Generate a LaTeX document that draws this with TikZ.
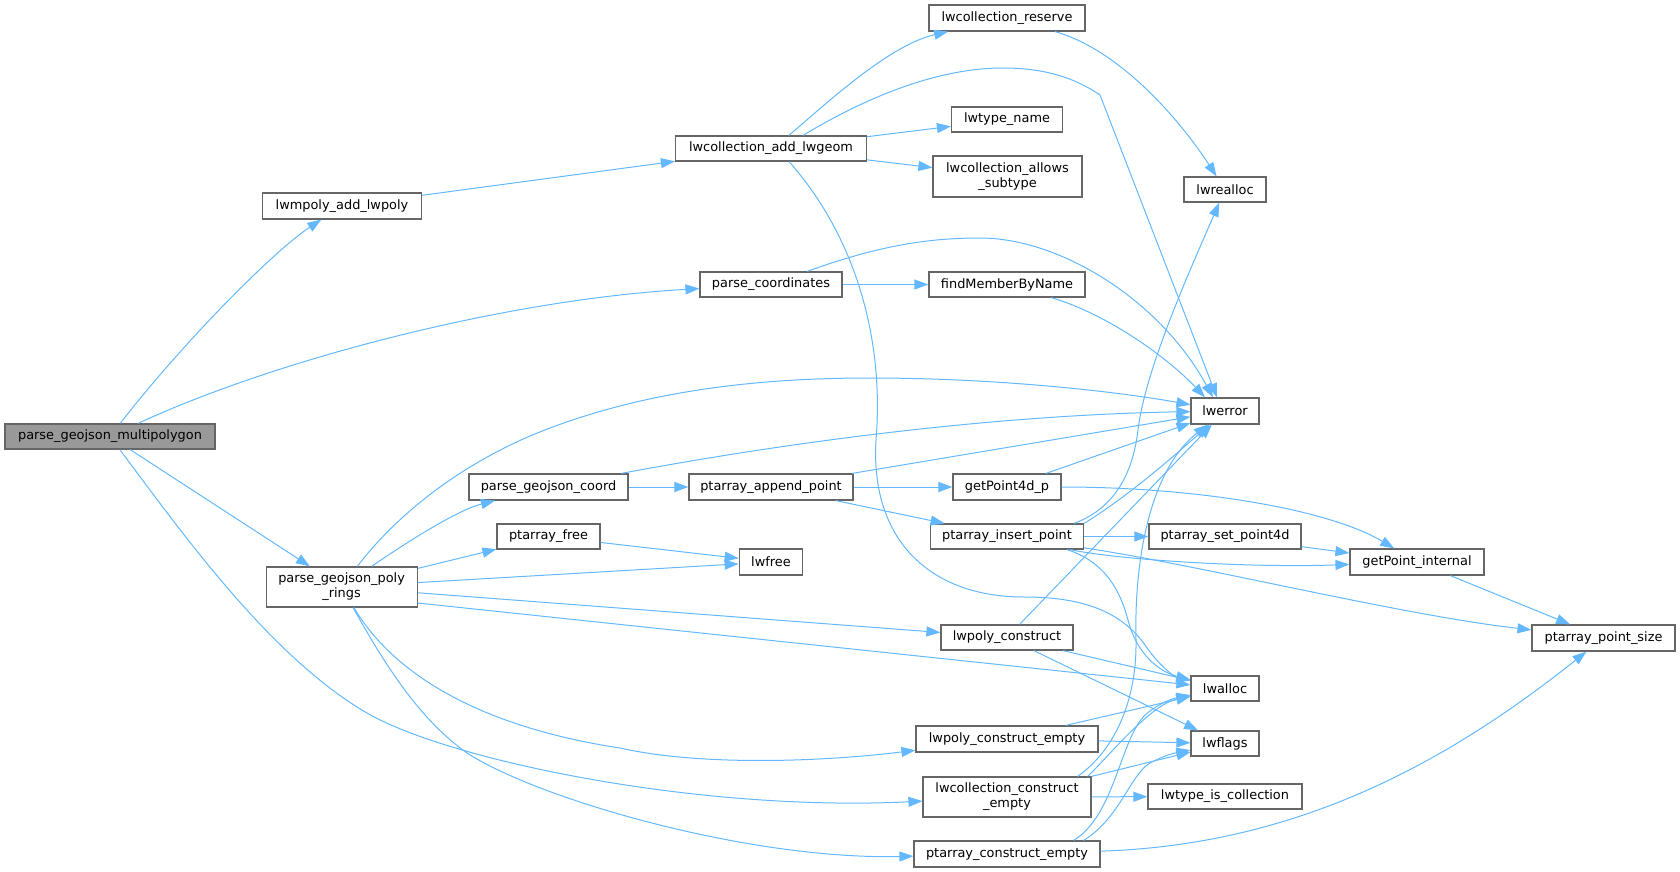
\documentclass[tikz,border=0pt]{standalone}
\usepackage{fontspec}
\setmainfont{DejaVu Sans}
\usetikzlibrary{arrows.meta,calc}
\definecolor{edgec}{HTML}{63B8FF}
\definecolor{bord}{HTML}{666666}
\definecolor{rootfill}{HTML}{999999}
\begin{document}
\begin{tikzpicture}[x=1pt,y=-1pt,
  box/.style={draw=bord,line width=1.2pt,fill=white,rectangle,inner sep=0pt,align=center,
    font=\fontsize{12.9}{15}\selectfont,text=black},
  rootbox/.style={box,fill=rootfill},
  e/.style={draw=edgec,line width=1pt,-{Triangle[length=14pt,width=10pt]}}]
\useasboundingbox (0,0) rectangle (1680,872);
% nodes
\node[rootbox,minimum width=210pt,minimum height=25pt] (root) at (110,436.5) {parse\_geojson\_multipolygon};
\node[box,minimum width=159pt,minimum height=26pt] (mpoly) at (342,206) {lwmpoly\_add\_lwpoly};
\node[box,minimum width=191pt,minimum height=25pt] (addgeom) at (771,148.5) {lwcollection\_add\_lwgeom};
\node[box,minimum width=156pt,minimum height=26pt] (reserve) at (1007,18) {lwcollection\_reserve};
\node[box,minimum width=111pt,minimum height=25pt] (tname) at (1007,119.5) {lwtype\_name};
\node[box,minimum width=149pt,minimum height=41pt] (allows) at (1007.5,176.5) {lwcollection\_allows\\\_subtype};
\node[box,minimum width=142pt,minimum height=25pt] (pcoords) at (771,284.5) {parse\_coordinates};
\node[box,minimum width=156pt,minimum height=25pt] (findm) at (1007,284.5) {findMemberByName};
\node[box,minimum width=82pt,minimum height=25pt] (realloc) at (1225,189.5) {lwrealloc};
\node[box,minimum width=68pt,minimum height=26pt] (lwerror) at (1225,411) {lwerror};
\node[box,minimum width=151pt,minimum height=40pt] (rings) at (341.6,587) {parse\_geojson\_poly\\\_rings};
\node[box,minimum width=159pt,minimum height=26pt] (gcoord) at (548.5,487) {parse\_geojson\_coord};
\node[box,minimum width=103pt,minimum height=25pt] (pfree) at (548.5,536.5) {ptarray\_free};
\node[box,minimum width=164pt,minimum height=26pt] (append) at (771,487) {ptarray\_append\_point};
\node[box,minimum width=108pt,minimum height=26pt] (gp4d) at (1007,487) {getPoint4d\_p};
\node[box,minimum width=153pt,minimum height=25pt] (insert) at (1007,536.5) {ptarray\_insert\_point};
\node[box,minimum width=63.5pt,minimum height=26pt] (lwfree) at (771,562) {lwfree};
\node[box,minimum width=132pt,minimum height=25pt] (pconstruct) at (1007,637.5) {lwpoly\_construct};
\node[box,minimum width=182pt,minimum height=26pt] (pcempty) at (1007,739) {lwpoly\_construct\_empty};
\node[box,minimum width=168pt,minimum height=40pt] (ccempty) at (1007,797) {lwcollection\_construct\\\_empty};
\node[box,minimum width=186pt,minimum height=26pt] (paempty) at (1007,854) {ptarray\_construct\_empty};
\node[box,minimum width=152pt,minimum height=25pt] (setp4d) at (1225,536.5) {ptarray\_set\_point4d};
\node[box,minimum width=134pt,minimum height=26pt] (gpint) at (1417,562) {getPoint\_internal};
\node[box,minimum width=143pt,minimum height=26pt] (psize) at (1603.5,638) {ptarray\_point\_size};
\node[box,minimum width=68pt,minimum height=25pt] (lwalloc) at (1225,688.5) {lwalloc};
\node[box,minimum width=68pt,minimum height=25pt] (lwflags) at (1225,743.5) {lwflags};
\node[box,minimum width=154pt,minimum height=25pt] (istype) at (1225,796.5) {lwtype\_is\_collection};
% edges
\draw[e] (root) .. controls (185,340) and (275,250) .. (mpoly);
\draw[e] (root) .. controls (270,362) and (500,300) .. (pcoords);
\draw[e] (root) -- (rings);
\draw[e] (root) .. controls (180,530) and (270,657) .. (367,713) .. controls (450,761) and (700,812) .. (ccempty);
\draw[e] (mpoly) -- (addgeom);
\draw[e] ($(addgeom.north)+(18,0)$) .. controls (830,100) and (890,45) .. (reserve);
\draw[e] ($(addgeom.north)+(32,0)$) .. controls (870,95) and (940,68) .. (1003,68) .. controls (1045,68) and (1075,78) .. (1100,95) -- ($(lwerror.north)+(-8,0)$);
\draw[e] (addgeom) -- (tname);
\draw[e] (addgeom) -- (allows);
\draw[e] ($(addgeom.south)+(18,0)$) .. controls (850,230) and (885,330) .. (876,440) .. controls (870,540) and (930,597) .. (1024,597) .. controls (1080,597) and (1120,610) .. (1145,645) .. controls (1160,667) and (1175,677) .. (lwalloc);
\draw[e] (reserve) .. controls (1120,50) and (1180,120) .. (realloc);
\draw[e] (pcoords) .. controls (880,245) and (930,238) .. (980,238) .. controls (1060,238) and (1160,300) .. ($(lwerror.north)+(-12,0)$);
\draw[e] (pcoords) -- (findm);
\draw[e] (findm) .. controls (1110,315) and (1170,360) .. ($(lwerror.north)+(-20,0)$);
\draw[e] (rings) .. controls (385,530) and (440,475) .. (530,436) .. controls (640,390) and (760,378) .. (870,378) .. controls (1000,378) and (1120,392) .. (lwerror);
\draw[e] (rings) .. controls (410,540) and (458,510) .. (gcoord);
\draw[e] (rings) -- (pfree);
\draw[e] (rings) -- (lwfree);
\draw[e] (pfree) -- (lwfree);
\draw[e] (rings) -- (pconstruct);
\draw[e] ($(rings.east)+(0,16)$) -- (lwalloc);
\draw[e] (rings) .. controls (400,685) and (500,730) .. (620,748) .. controls (700,766) and (820,762) .. (pcempty);
\draw[e] (rings) .. controls (385,665) and (420,720) .. (467,753) .. controls (540,800) and (750,860) .. (paempty);
\draw[e] (gcoord) .. controls (800,440) and (1000,415) .. (lwerror);
\draw[e] (gcoord) -- (append);
\draw[e] (append) -- (lwerror);
\draw[e] (append) -- (gp4d);
\draw[e] (append) -- (insert);
\draw[e] (gp4d) -- (lwerror);
\draw[e] (gp4d) .. controls (1200,487) and (1330,510) .. (gpint);
\draw[e] ($(insert.north east)+(-10,0)$) .. controls (1110,510) and (1132,480) .. (1138,430) .. controls (1145,370) and (1190,270) .. (realloc);
\draw[e] (insert.north east) .. controls (1130,495) and (1175,455) .. (lwerror);
\draw[e] (insert) -- (setp4d);
\draw[e] (insert) .. controls (1120,560) and (1250,568) .. (gpint);
\draw[e] (insert) .. controls (1200,565) and (1400,615) .. (psize);
\draw[e] ($(insert.south east)+(-17,0)$) .. controls (1105,562) and (1120,590) .. (1128,620) .. controls (1137,655) and (1160,672) .. (lwalloc);
\draw[e] (setp4d) -- (gpint);
\draw[e] (gpint) -- (psize);
\draw[e] (pconstruct) -- (lwerror);
\draw[e] (pconstruct) -- (lwalloc);
\draw[e] (pconstruct) -- (lwflags);
\draw[e] (pcempty) -- (lwalloc);
\draw[e] (pcempty) -- (lwflags);
\draw[e] ($(ccempty.north east)+(-14,0)$) .. controls (1115,750) and (1137,700) .. (1136,640) .. controls (1134,560) and (1150,470) .. (lwerror);
\draw[e] ($(ccempty.north east)+(-4,0)$) .. controls (1110,755) and (1150,705) .. (lwalloc);
\draw[e] (ccempty.north east) -- (lwflags);
\draw[e] (ccempty) -- (istype);
\draw[e] ($(paempty.north east)+(-27,0)$) .. controls (1115,815) and (1120,740) .. (1145,715) .. controls (1160,702) and (1175,698) .. (lwalloc);
\draw[e] ($(paempty.north east)+(-17,0)$) .. controls (1120,818) and (1130,775) .. (1150,763) .. controls (1165,755) and (1175,753) .. (lwflags);
\draw[e] (paempty) .. controls (1300,845) and (1450,760) .. (psize);
\end{tikzpicture}
\end{document}
